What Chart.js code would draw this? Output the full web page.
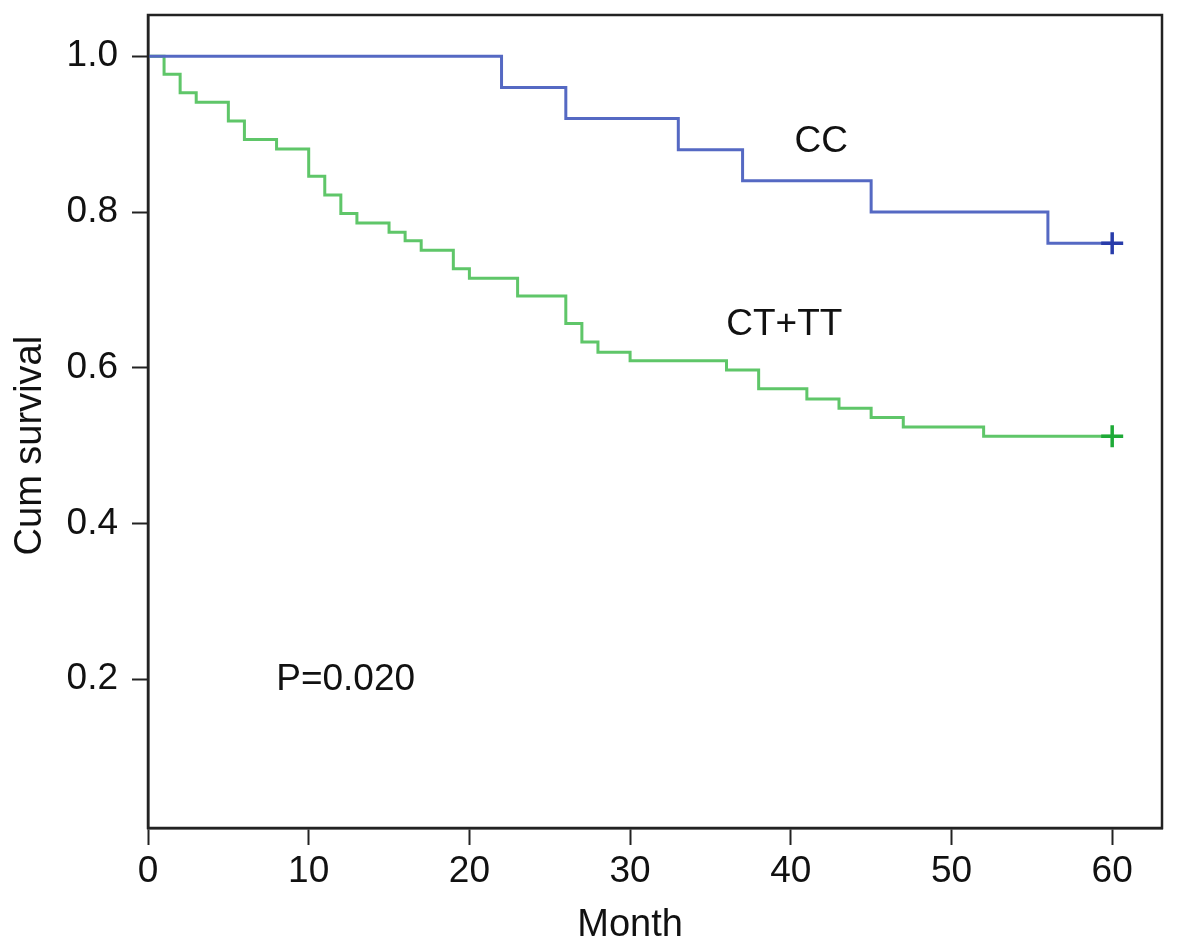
<!DOCTYPE html>
<html>
<head>
<meta charset="utf-8">
<script src="https://cdn.jsdelivr.net/npm/chart.js@4/dist/chart.umd.min.js"></script>
<style>
  body { margin: 0; background: #fff; }
  canvas { display: block; }
</style>
</head>
<body>
<canvas id="kmChart" width="1181" height="952"></canvas>
<script>
// Kaplan-Meier data
const ccMonths = [0, 22, 26, 33, 37, 45, 56, 60];
const ccSurvival = [1.0, 0.96, 0.92, 0.88, 0.84, 0.80, 0.76, 0.76];

const cttMonths = [0, 1, 2, 3, 5, 6, 8, 10, 11, 12, 13, 15, 16, 17, 19, 20, 23, 26, 27, 28, 30, 36, 38, 41, 43, 45, 47, 52, 60];
const cttSurvival = [1.0, 0.977, 0.953, 0.941, 0.917, 0.893, 0.881, 0.846, 0.822, 0.798, 0.786, 0.774, 0.763, 0.751, 0.727, 0.715, 0.692, 0.657, 0.633, 0.620, 0.609, 0.597, 0.573, 0.560, 0.548, 0.536, 0.524, 0.512, 0.512];

const xTicks = [0, 10, 20, 30, 40, 50, 60];
const yTicks = [0.2, 0.4, 0.6, 0.8, 1.0];

// text labels inside the plot (in data units)
const notes = [
  { text: 'CC', month: 41.9, value: 0.890 },
  { text: 'CT+TT', month: 39.6, value: 0.655 },
  { text: 'P=0.020', month: 12.3, value: 0.199 }
];

const FONT = '"Liberation Sans", Arial, sans-serif';
const AXIS = '#222';

function toPoints(months, surv) {
  return months.map((m, i) => ({ x: m, y: surv[i] }));
}

// only the last point (censored at 60) gets a + mark
function lastOnly(size) {
  return ctx => ctx.dataIndex === ctx.dataset.data.length - 1 ? size : 0;
}

// draw the frame, axis titles and the in-plot text
const extras = {
  id: 'extras',
  afterDraw(chart) {
    const { ctx, chartArea, scales } = chart;
    ctx.save();
    ctx.strokeStyle = AXIS;
    ctx.lineWidth = 2.5;
    ctx.strokeRect(chartArea.left, chartArea.top, chartArea.right - chartArea.left, chartArea.bottom - chartArea.top);
    ctx.fillStyle = '#111';
    ctx.font = '37px ' + FONT;
    ctx.textAlign = 'center';
    ctx.textBaseline = 'middle';
    notes.forEach(n => {
      ctx.fillText(n.text, scales.x.getPixelForValue(n.month), scales.y.getPixelForValue(n.value));
    });

    // axis titles, centred on the data range like the original
    ctx.font = '38px ' + FONT;
    ctx.fillText('Month', scales.x.getPixelForValue(30), 926);
    ctx.translate(31, scales.y.getPixelForValue(0.5));
    ctx.rotate(-Math.PI / 2);
    ctx.fillText('Cum survival', 0, 0);
    ctx.restore();
  }
};

const chartConfig = {
  type: 'line',
  data: {
    datasets: [
      {
        label: 'CC',
        data: toPoints(ccMonths, ccSurvival),
        borderColor: 'rgb(85, 105, 195)',
        borderWidth: 3,
        stepped: 'before',
        fill: false,
        pointStyle: 'cross',
        pointRadius: lastOnly(11),
        pointBorderWidth: 3.5,
        pointBorderColor: 'rgb(40, 60, 170)'
      },
      {
        label: 'CT+TT',
        data: toPoints(cttMonths, cttSurvival),
        borderColor: 'rgb(95, 198, 105)',
        borderWidth: 3,
        stepped: 'before',
        fill: false,
        pointStyle: 'cross',
        pointRadius: lastOnly(11),
        pointBorderWidth: 3.5,
        pointBorderColor: 'rgb(30, 170, 55)'
      }
    ]
  },
  options: {
    responsive: false,
    animation: false,
    layout: { padding: { top: 15, right: 19, left: 0, bottom: 0 } },
    plugins: {
      legend: { display: false },
      tooltip: { enabled: false }
    },
    scales: {
      x: {
        type: 'linear',
        position: 'bottom',
        min: 0,
        max: 63.1,
        afterBuildTicks: scale => { scale.ticks = xTicks.map(v => ({ value: v })); },
        afterFit: scale => { scale.height = 124; scale.paddingLeft = 0; scale.paddingRight = 0; },
        grid: { drawOnChartArea: false, drawTicks: true, tickLength: 17, tickColor: AXIS, tickWidth: 2 },
        border: { display: true, color: AXIS, width: 2.5 },
        ticks: { color: '#111', font: { family: FONT, size: 37 }, padding: 5, maxRotation: 0 }
      },
      y: {
        type: 'linear',
        position: 'left',
        min: 0.009,
        max: 1.053,
        afterBuildTicks: scale => { scale.ticks = yTicks.map(v => ({ value: v })); },
        afterFit: scale => { scale.width = 148; scale.paddingTop = 0; scale.paddingBottom = 0; },
        grid: { drawOnChartArea: false, drawTicks: true, tickLength: 16, tickColor: AXIS, tickWidth: 2 },
        border: { display: true, color: AXIS, width: 2.5 },
        ticks: { color: '#111', font: { family: FONT, size: 37 }, padding: 14, callback: v => v.toFixed(1) }
      }
    }
  },
  plugins: [extras]
};

new Chart(document.getElementById('kmChart').getContext('2d'), chartConfig);
</script>
</body>
</html>
